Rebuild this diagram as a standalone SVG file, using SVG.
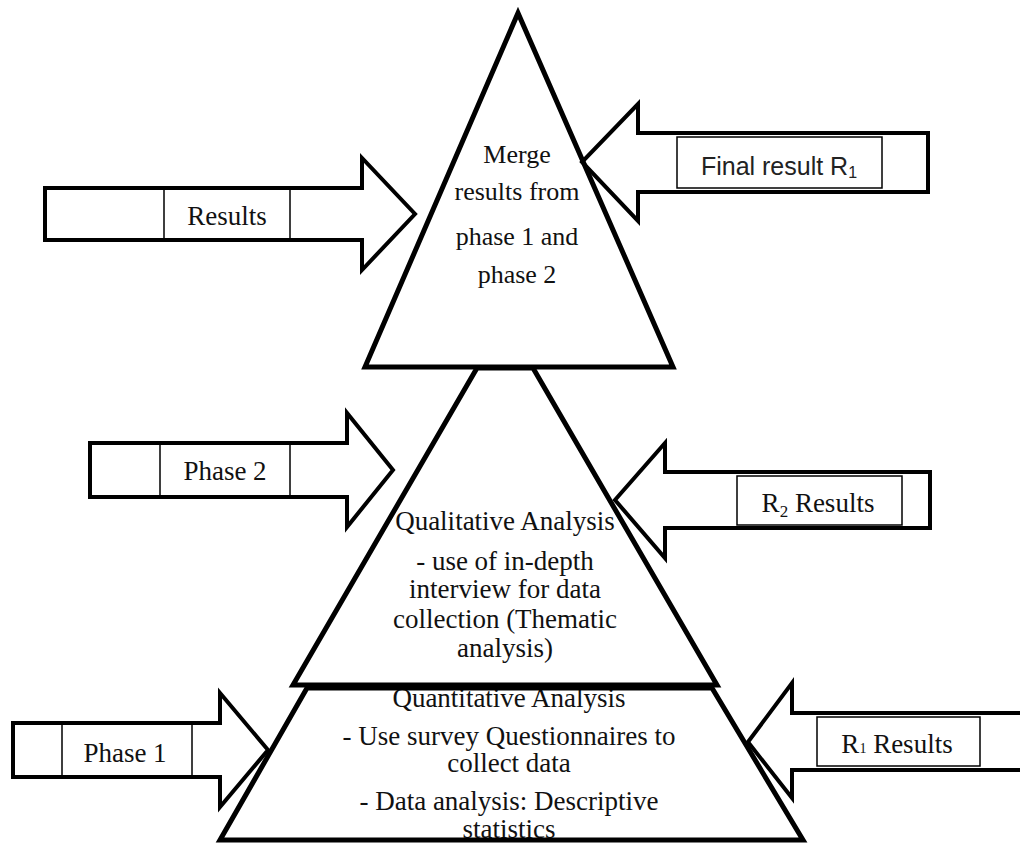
<svg xmlns="http://www.w3.org/2000/svg" width="1020" height="843" viewBox="0 0 1020 843">
<style>
.shape{fill:none;stroke:#000;stroke-width:5;stroke-linejoin:miter}
.arrow{fill:none;stroke:#000;stroke-width:4;stroke-linejoin:miter}
.box{fill:none;stroke:#000;stroke-width:1.5}
.t{font-family:"Liberation Serif","Times New Roman",serif;font-size:26px;fill:#111;text-anchor:middle}
.t27{font-family:"Liberation Serif","Times New Roman",serif;font-size:27px;fill:#111;text-anchor:middle}
.s{font-family:"Liberation Sans",Arial,sans-serif;font-size:25px;fill:#222;text-anchor:middle}
</style>
<rect width="1020" height="843" fill="#fff"/>

<g id="node-top">
<text class="t" x="517" y="163">Merge</text>
<text class="t" x="517" y="200">results from</text>
<text class="t" x="517" y="245">phase 1 and</text>
<text class="t" x="517" y="283">phase 2</text>
<polygon class="shape" points="518,13 365,367 673,367"/>
</g>

<g id="node-middle">
<text class="t27" x="505" y="530">Qualitative Analysis</text>
<text class="t27" x="505" y="570">- use of in-depth</text>
<text class="t27" x="505" y="598">interview for data</text>
<text class="t27" x="505" y="628">collection (Thematic</text>
<text class="t27" x="505" y="657">analysis)</text>
<polygon class="shape" points="477,368 533,368 717,685 293,685"/>
</g>

<g id="node-bottom">
<text class="t27" x="509" y="707">Quantitative Analysis</text>
<text class="t27" x="509" y="745">- Use survey Questionnaires to</text>
<text class="t27" x="509" y="772">collect data</text>
<text class="t27" x="509" y="810">- Data analysis: Descriptive</text>
<text class="t27" x="509" y="838">statistics</text>
<polygon class="shape" points="307,688 712,688 803,840 220,840"/>
</g>

<g id="connectors">
<g id="arrow-results">
<polygon class="arrow" points="45,188 362,188 362,158 415,214 362,270 362,240 45,240"/>
<rect class="box" x="164" y="188" width="126" height="52"/>
<text class="t27" x="227" y="225">Results</text>
</g>
<g id="arrow-final">
<polygon class="arrow" points="928,133 638,133 638,104 582,162 638,221 638,192 928,192"/>
<rect class="box" x="677" y="137" width="205" height="51"/>
<text class="s" x="779" y="175">Final result R<tspan font-size="16" dy="3">1</tspan></text>
</g>
<g id="arrow-phase2">
<polygon class="arrow" points="90,443 347,443 347,413 393,470 347,527 347,497 90,497"/>
<rect class="box" x="160" y="443" width="130" height="54"/>
<text class="t27" x="225" y="480">Phase 2</text>
</g>
<g id="arrow-r2">
<polygon class="arrow" points="930,472 665,472 665,443 615,500 665,558 665,528 930,528"/>
<rect class="box" x="737" y="476" width="165" height="49"/>
<text class="t27" x="818" y="512">R<tspan font-size="17" dy="5">2</tspan><tspan dy="-5"> Results</tspan></text>
</g>
<g id="arrow-phase1">
<polygon class="arrow" points="13,723 220,723 220,693 268,750 220,807 220,777 13,777"/>
<rect class="box" x="62" y="723" width="130" height="54"/>
<text class="t27" x="125" y="762">Phase 1</text>
</g>
<g id="arrow-r1">
<polygon class="arrow" points="1030,713 792,713 792,683 748,742 792,798 792,770 1030,770"/>
<rect class="box" x="817" y="717" width="163" height="49"/>
<text class="t27" x="897" y="753">R<tspan font-size="14" dy="0">1</tspan><tspan> Results</tspan></text>
</g>
</g>
</svg>
